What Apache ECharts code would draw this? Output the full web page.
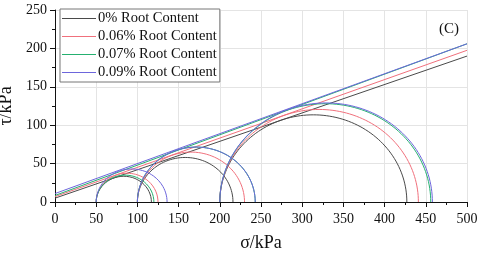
<!DOCTYPE html>
<html><head><meta charset="utf-8">
<script src="https://cdn.jsdelivr.net/npm/echarts@6/dist/echarts.min.js"></script>
<style>html,body{margin:0;padding:0;background:#fff}#c{width:480px;height:254px}</style>
</head><body><div id="c"></div>
<script>
var names = ['0% Root Content', '0.06% Root Content', '0.07% Root Content', '0.09% Root Content'];
var colors = ['#4a4a4a', '#f0707c', '#25b070', '#6d66dc'];
var sigma3 = [50, 100, 200];
var sigma1_0 = [117, 216, 427];
var sigma1_006 = [125, 230, 441];
var sigma1_007 = [120, 243, 456];
var sigma1_009 = [136, 243, 458];
var sigma1 = [sigma1_0, sigma1_006, sigma1_007, sigma1_009];
var envAt0 = [5, 7, 8.5, 11];
var envAt500 = [190, 197.5, 206, 206];
var xTicks = [0, 50, 100, 150, 200, 250, 300, 350, 400, 450, 500];
var yTicks = [0, 50, 100, 150, 200, 250];

function circle(s3, s1) {
  var c = (s1 + s3) / 2, r = (s1 - s3) / 2, pts = [];
  for (var i = 0; i <= 180; i++) {
    var t = Math.PI * i / 180;
    pts.push([c - r * Math.cos(t), r * Math.sin(t)]);
  }
  return pts;
}
var series = [];
names.forEach(function (n, k) {
  sigma3.forEach(function (s3, j) {
    series.push({name: n, type: 'line', data: circle(s3, sigma1[k][j]), showSymbol: false, symbol: 'none',
      lineStyle: {color: colors[k], width: 1}, itemStyle: {color: colors[k]}, silent: true, animation: false, z: 2 + k});
  });
  series.push({name: n, type: 'line', data: [[0, envAt0[k]], [500, envAt500[k]]], showSymbol: false, symbol: 'none',
    lineStyle: {color: colors[k], width: 1}, itemStyle: {color: colors[k]}, silent: true, animation: false, z: 2 + k});
});
var font = 'Liberation Serif';
var chart = echarts.init(document.getElementById('c'), null, {renderer: 'canvas'});
chart.setOption({
  animation: false,
  backgroundColor: '#fff',
  grid: {left: 55, right: 13, top: 10, bottom: 52, containLabel: false, outerBoundsMode: 'none'},
  xAxis: {type: 'value', min: 0, max: 500, interval: 50,
    name: 'σ/kPa', nameLocation: 'middle', nameGap: 32,
    nameTextStyle: {fontFamily: font, fontSize: 18, color: '#111'},
    axisLine: {show: true, lineStyle: {color: '#111', width: 1}},
    axisTick: {show: true, length: 5, lineStyle: {color: '#111'}},
    minorTick: {show: true, splitNumber: 2, length: 3, lineStyle: {color: '#111'}},
    axisLabel: {fontFamily: font, fontSize: 14, color: '#111', margin: 10,
      formatter: function (v) { return xTicks.indexOf(v) >= 0 ? String(v) : ''; }},
    splitLine: {show: true, lineStyle: {color: '#e4e4e4', width: 1}}},
  yAxis: {type: 'value', min: 0, max: 250, interval: 50,
    name: 'τ/kPa', nameLocation: 'middle', nameGap: 33, nameRotate: 90,
    nameTextStyle: {fontFamily: font, fontSize: 18, color: '#111'},
    axisLine: {show: true, lineStyle: {color: '#111', width: 1}},
    axisTick: {show: true, length: 5, lineStyle: {color: '#111'}},
    minorTick: {show: true, splitNumber: 2, length: 3, lineStyle: {color: '#111'}},
    axisLabel: {fontFamily: font, fontSize: 14, color: '#111', margin: 8,
      formatter: function (v) { return yTicks.indexOf(v) >= 0 ? String(v) : ''; }},
    splitLine: {show: true, lineStyle: {color: '#e4e4e4', width: 1}}},
  legend: {data: names, orient: 'vertical', left: 60, top: 9, itemWidth: 34, itemHeight: 1, icon: 'rect',
    itemGap: 3, padding: [2, 3, 2, 2], borderColor: '#777', borderWidth: 1, backgroundColor: '#fff',
    textStyle: {fontFamily: font, fontSize: 14.5, color: '#111', padding: [0, 0, 0, -3]}},
  graphic: [{type: 'text', left: 439, top: 22, style: {text: '(C)', fontFamily: font, fontSize: 15, fill: '#111'}}],
  series: series
});
</script></body></html>
